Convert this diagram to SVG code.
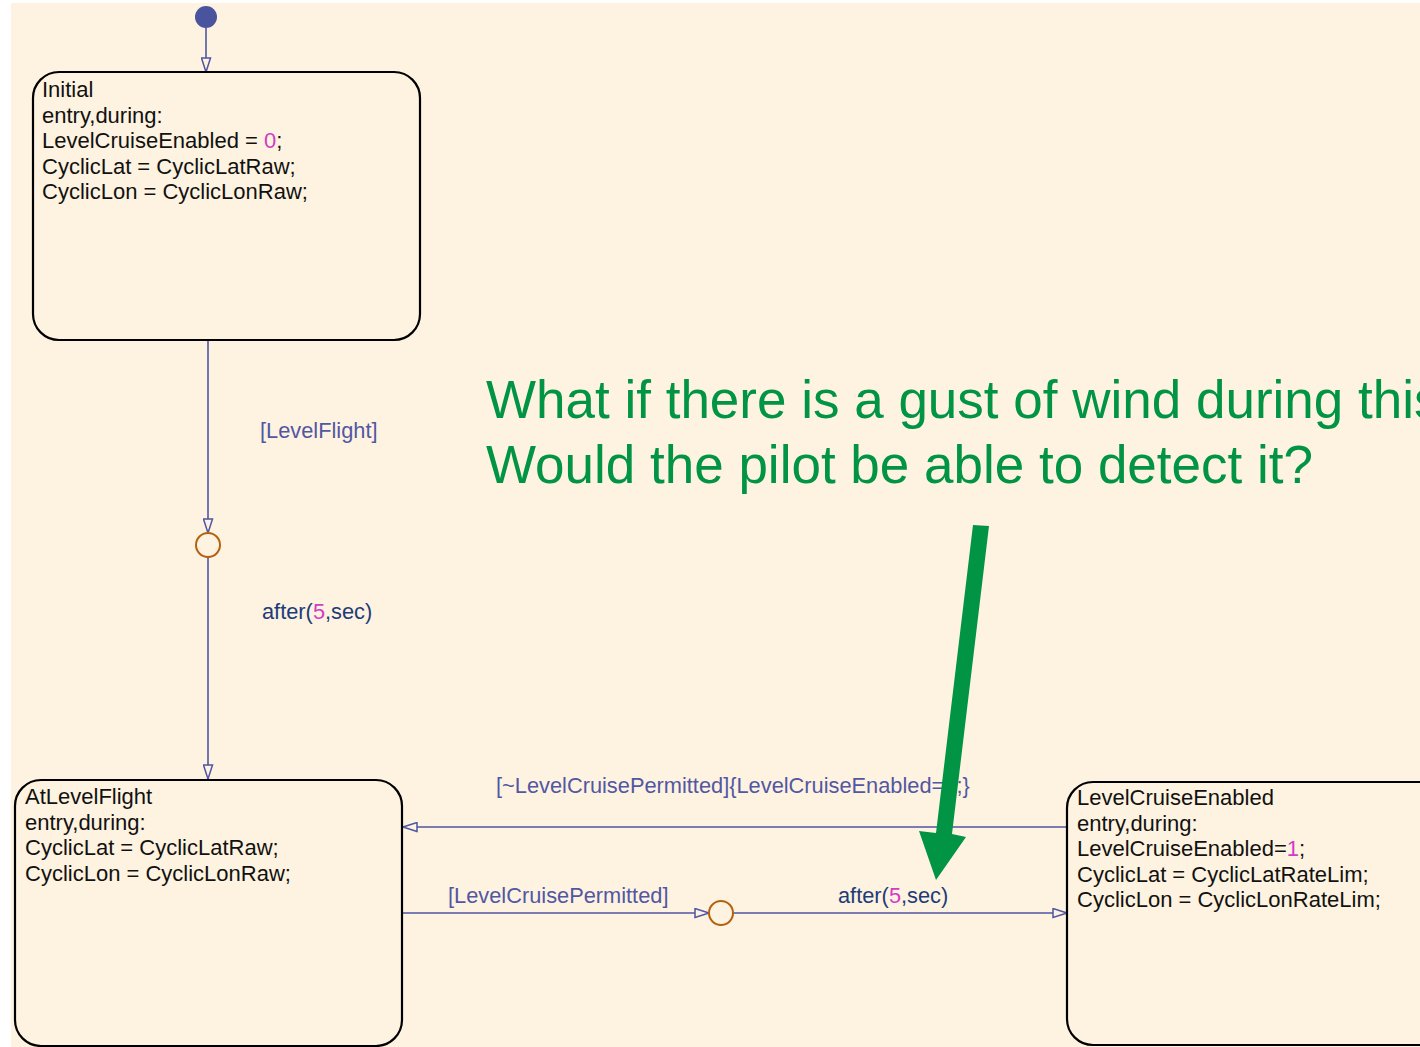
<svg xmlns="http://www.w3.org/2000/svg" width="1420" height="1047" viewBox="0 0 1420 1047">
  <defs>
    <marker id="open-arrow" viewBox="0 0 16 11" refX="15" refY="5.5" markerWidth="16" markerHeight="11" markerUnits="userSpaceOnUse" orient="auto">
      <path d="M1,1 L15,5.5 L1,10 Z" fill="#FEF3E0" stroke="#4F56A3" stroke-width="1.5"/>
    </marker>
    <style>
      .state { fill: #FEF3E0; stroke: #000; stroke-width: 2.2; }
      .body { font-family: "Liberation Sans", Arial, sans-serif; font-size: 22px; fill: #111; }
      .num { fill: #D23CC4; }
      .trans { fill: none; stroke: #4F56A3; stroke-width: 1.6; }
      .tlabel { font-family: "Liberation Sans", Arial, sans-serif; font-size: 21.8px; fill: #5257A3; }
      .event { fill: #1D3C78; }
      .junction { fill: #FEF3E0; stroke: #B5600E; stroke-width: 2; }
      .note { font-family: "Liberation Sans", Arial, sans-serif; font-size: 53px; fill: #009444; }
    </style>
  </defs>

  <!-- chart canvas -->
  <rect x="0" y="0" width="1420" height="1047" fill="#FFFFFF"/>
  <rect x="11" y="3" width="1409" height="1044" fill="#FEF3E0"/>

  <!-- connectors -->
  <g id="connectors">
    <circle id="default-source" cx="206" cy="17" r="11" fill="#4A539D"/>
    <line class="trans" x1="206" y1="28" x2="206" y2="72" marker-end="url(#open-arrow)"/>
    <line class="trans" x1="208" y1="341" x2="208" y2="533" marker-end="url(#open-arrow)"/>
    <line class="trans" x1="208" y1="557" x2="208" y2="779" marker-end="url(#open-arrow)"/>
    <line class="trans" x1="1067" y1="827" x2="403" y2="827" marker-end="url(#open-arrow)"/>
    <line class="trans" x1="403" y1="913" x2="709" y2="913" marker-end="url(#open-arrow)"/>
    <line class="trans" x1="733" y1="913" x2="1067" y2="913" marker-end="url(#open-arrow)"/>

    <text class="tlabel" x="260" y="438">[LevelFlight]</text>
    <text class="tlabel event" x="262" y="619">after(<tspan class="num">5</tspan>,sec)</text>
    <text class="tlabel" x="496" y="793">[~LevelCruisePermitted]{LevelCruiseEnabled=<tspan class="num">0</tspan>;}</text>
    <text class="tlabel" x="448" y="903">[LevelCruisePermitted]</text>
    <text class="tlabel event" x="838" y="903">after(<tspan class="num">5</tspan>,sec)</text>
  </g>

  <!-- junctions -->
  <g id="junction-1">
    <circle class="junction" cx="208" cy="545" r="12"/>
  </g>
  <g id="junction-2">
    <circle class="junction" cx="721" cy="913" r="12"/>
  </g>

  <!-- states -->
  <g id="state-initial">
    <rect class="state" x="33" y="72" width="387" height="268" rx="26" ry="26"/>
    <text class="body" x="42" y="97">Initial</text>
    <text class="body" x="42" y="122.5">entry,during:</text>
    <text class="body" x="42" y="148">LevelCruiseEnabled = <tspan class="num">0</tspan>;</text>
    <text class="body" x="42" y="173.5">CyclicLat = CyclicLatRaw;</text>
    <text class="body" x="42" y="199">CyclicLon = CyclicLonRaw;</text>
  </g>

  <g id="state-atlevelflight">
    <rect class="state" x="15" y="780" width="387" height="266" rx="26" ry="26"/>
    <text class="body" x="25" y="804">AtLevelFlight</text>
    <text class="body" x="25" y="830">entry,during:</text>
    <text class="body" x="25" y="855">CyclicLat = CyclicLatRaw;</text>
    <text class="body" x="25" y="881">CyclicLon = CyclicLonRaw;</text>
  </g>

  <g id="state-levelcruiseenabled">
    <rect class="state" x="1067" y="782" width="380" height="263" rx="26" ry="26"/>
    <text class="body" x="1077" y="805">LevelCruiseEnabled</text>
    <text class="body" x="1077" y="831">entry,during:</text>
    <text class="body" x="1077" y="856">LevelCruiseEnabled=<tspan class="num">1</tspan>;</text>
    <text class="body" x="1077" y="882">CyclicLat = CyclicLatRateLim;</text>
    <text class="body" x="1077" y="907">CyclicLon = CyclicLonRateLim;</text>
  </g>

  <!-- annotation -->
  <g id="annotation">
    <text class="note" x="486" y="418">What if there is a gust of wind during this</text>
    <text class="note" x="486" y="483">Would the pilot be able to detect it?</text>
    <polygon fill="#009444" points="973,525 989,526 952,834 966,837 936,880 919,831 936,833"/>
  </g>
</svg>
